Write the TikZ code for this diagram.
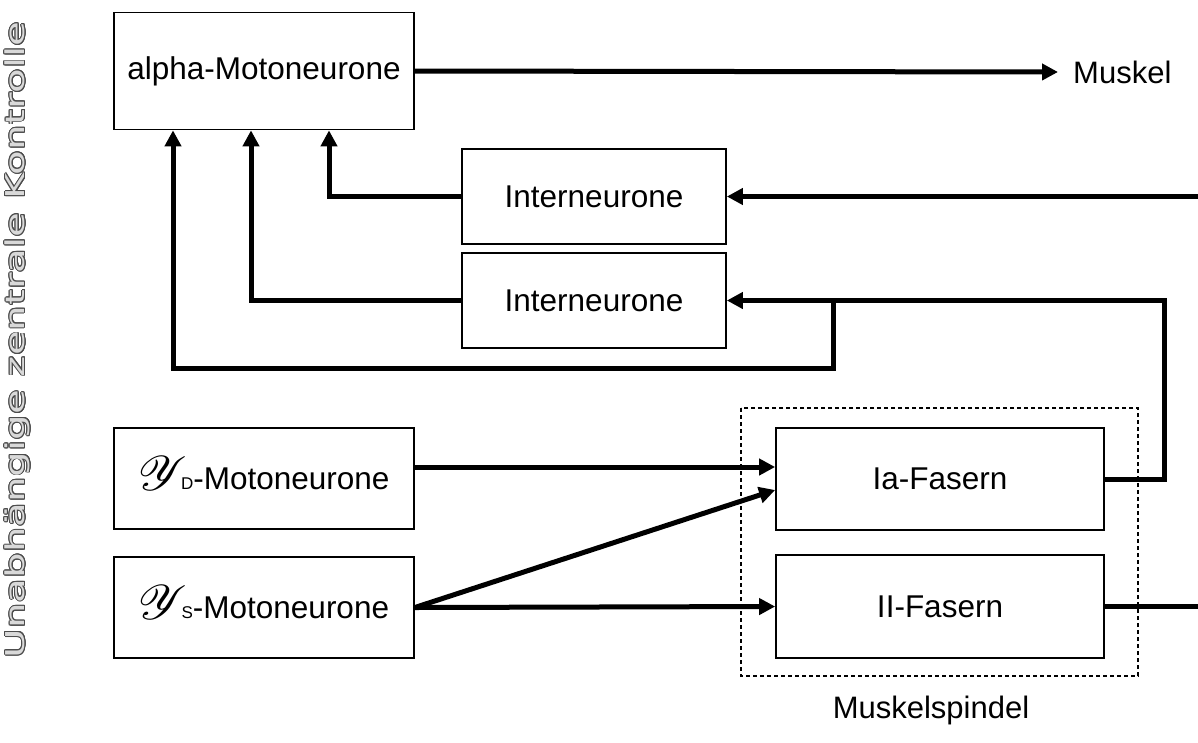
\documentclass[tikz,border=0pt]{standalone}
\usepackage{fontspec}
\setmainfont{Liberation Sans}
\newfontfamily\widefont[FakeStretch=1.55]{DejaVu Sans}
\usepackage{mathrsfs}
\usepackage{contour}
\usetikzlibrary{arrows.meta}
\contourlength{0.9pt}
\newcommand{\gam}{\raisebox{-1pt}[0pt][0pt]{\scalebox{1.95}{$\mathscr{Y}$}}\hspace{-6pt}}
\begin{document}
\begin{tikzpicture}[x=1pt,y=-1pt,
  box/.style={draw, line width=1.7pt, inner sep=0pt, anchor=center,
    font=\fontsize{31.5}{36}\selectfont},
  label/.style={inner sep=0pt, font=\fontsize{31}{36}\selectfont},
  conn/.style={line width=5pt, -{Triangle[length=16pt,width=16pt]}},
  plain/.style={line width=5pt},
  spindle/.style={draw, line width=1.3pt, dash pattern=on 4pt off 3pt}]
\useasboundingbox (0,0) rectangle (1198,742);

% side caption
\node[rotate=90, inner sep=0pt, font=\widefont\fontsize{26}{30}\selectfont]
  (caption) at (18,340) {\contour{black!70}{\textcolor{white!85!black}{Unabhängige zentrale Kontrolle}}};

% muscle spindle frame
\draw[spindle] (741,408) rectangle (1138,676);
\node[label] (spindel) at (931,710) {Muskelspindel};

% neurons and fibres
\node[box, minimum width=300pt, minimum height=117pt] (alpha) at (264,71) {alpha-Motoneurone};
\node[box, minimum width=264pt, minimum height=95pt] (int1) at (594,196.5) {Interneurone};
\node[box, minimum width=264pt, minimum height=95pt] (int2) at (594,300.5) {Interneurone};
\node[box, minimum width=300pt, minimum height=101pt] (gD) at (264,478.5) {\gam{\fontsize{17}{18}\selectfont D}-Motoneurone};
\node[box, minimum width=300pt, minimum height=101pt] (gS) at (264,607.5) {\gam{\fontsize{17}{18}\selectfont S}-Motoneurone};
\node[box, minimum width=328pt, minimum height=102pt] (Ia) at (940,479) {Ia-Fasern};
\node[box, minimum width=328pt, minimum height=103pt] (II) at (940,606.5) {II-Fasern};

\node[label, anchor=west] (muskel) at (1073,72) {Muskel};

% free ends at the right border
\coordinate (rin1) at (1198,196.5);
\coordinate (rout2) at (1198,606.5);
\coordinate (br) at (833,300.5);
\coordinate (loop) at (833,368);

% connectors
\draw[conn] (alpha.east) -- ([xshift=-15pt]muskel.west);
\draw[conn] (rin1) -- (int1.east);
\draw[conn] (int1.west) -| ([xshift=65pt]alpha.south);
\draw[conn] (int2.west) -| ([xshift=-13pt]alpha.south);
\draw[conn] (Ia.east) -- ++(60,0) |- (int2.east);
\draw[conn] (br) -- (loop) -| ([xshift=-91pt]alpha.south);
\draw[conn] ([yshift=11.5pt]gD.east) -- ([yshift=12pt]Ia.west);
\draw[conn] (gS.east) -- ([yshift=-11pt]Ia.west);
\draw[conn] (gS.east) -- (II.west);
\draw[plain] (II.east) -- (rout2);
\end{tikzpicture}
\end{document}
